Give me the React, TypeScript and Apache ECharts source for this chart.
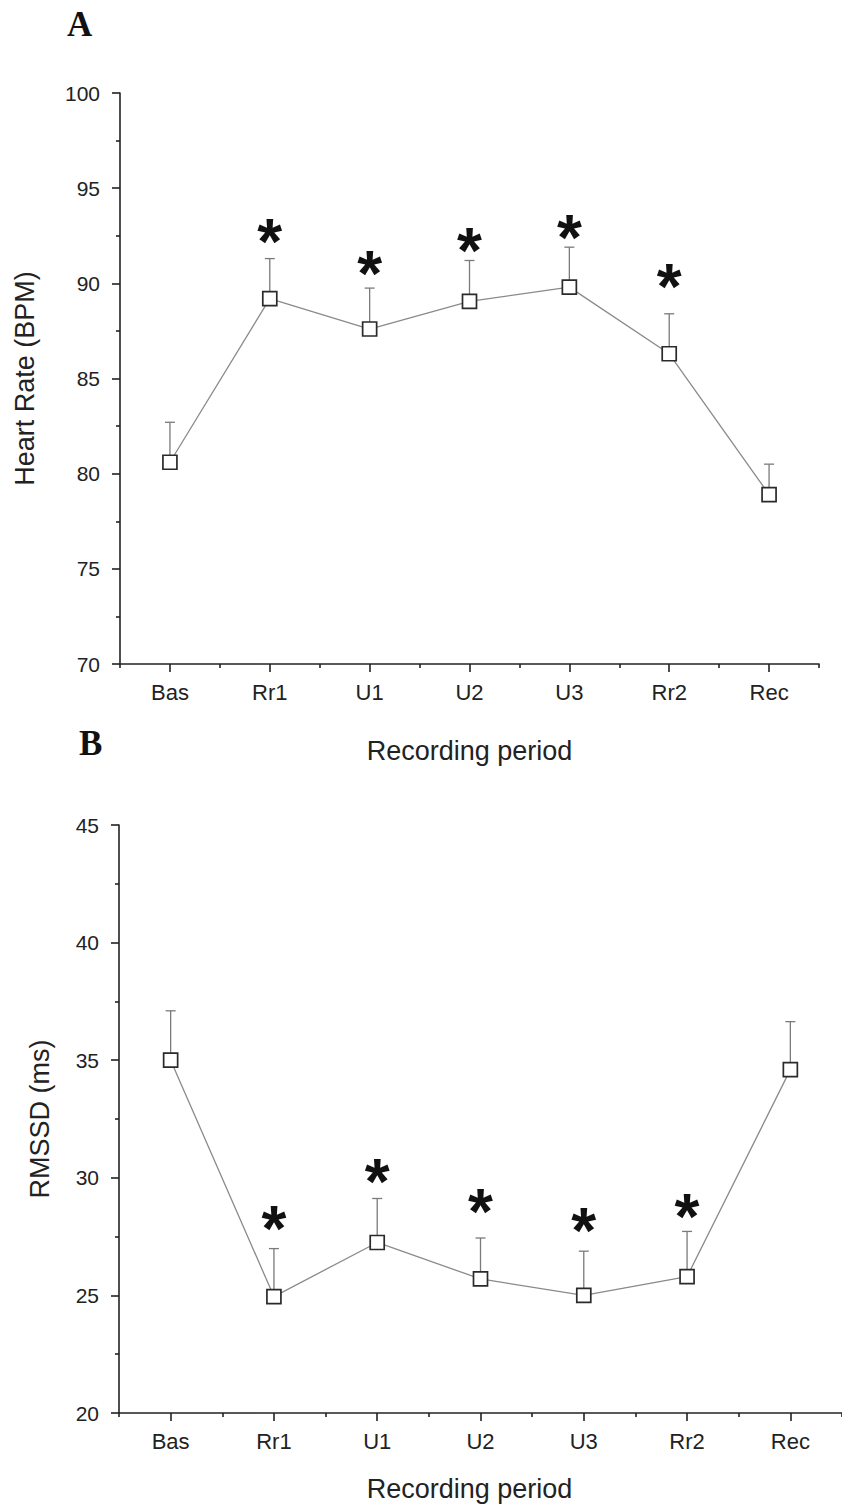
import React, { useEffect, useRef } from 'react';
import * as echarts from 'echarts';

const categories = ['Bas', 'Rr1', 'U1', 'U2', 'U3', 'Rr2', 'Rec'];

const hrMean = [80.6, 89.2, 87.6, 89.05, 89.8, 86.3, 78.9];
const hrSE = [2.1, 2.1, 2.15, 2.15, 2.1, 2.1, 1.6];
const hrStar = [null, 92.4, 90.7, 91.9, 92.6, 90.0, null];
const hrTicks = { min: 70, max: 100, interval: 5 };

const rmMean = [35.0, 24.95, 27.25, 25.7, 25.0, 25.8, 34.6];
const rmSE = [2.1, 2.04, 1.87, 1.74, 1.88, 1.92, 2.04];
const rmStar = [null, 28.0, 30.0, 28.7, 27.9, 28.5, null];
const rmTicks = { min: 20, max: 45, interval: 5 };

const FONT = 'Liberation Sans, Arial, sans-serif';
const AX = '#222';

function errorBars(gi: number, means: number[], ses: number[]) {
  return {
    type: 'custom',
    xAxisIndex: gi,
    yAxisIndex: gi,
    z: 1,
    data: means.map((m, i) => [i, m, m + ses[i]]),
    encode: { x: 0, y: [1, 2] },
    renderItem: (params: any, api: any) => {
      const i = api.value(0);
      const b = api.coord([i, api.value(1)]);
      const t = api.coord([i, api.value(2)]);
      const hw = 5;
      const st = { stroke: '#7a7a7a', lineWidth: 1.3 };
      return {
        type: 'group',
        children: [
          { type: 'line', shape: { x1: b[0], y1: b[1], x2: t[0], y2: t[1] }, style: st },
          { type: 'line', shape: { x1: t[0] - hw, y1: t[1], x2: t[0] + hw, y2: t[1] }, style: st },
        ],
      };
    },
  };
}

function stars(gi: number, starY: (number | null)[]) {
  return {
    type: 'custom',
    xAxisIndex: gi,
    yAxisIndex: gi,
    z: 5,
    data: starY.map((v, i) => (v == null ? null : [i, v])).filter((d) => d != null),
    encode: { x: 0, y: 1 },
    renderItem: (params: any, api: any) => {
      const p = api.coord([api.value(0), api.value(1)]);
      return {
        type: 'text',
        x: p[0],
        y: p[1] + 4,
        style: {
          text: '*',
          font: 'bold 64px Liberation Sans, Arial, sans-serif',
          fill: '#111',
          textAlign: 'center',
          textVerticalAlign: 'middle',
        },
      };
    },
  };
}

function lineSeries(gi: number, means: number[]) {
  return {
    type: 'line',
    xAxisIndex: gi,
    yAxisIndex: gi,
    z: 3,
    data: means,
    symbol: 'rect',
    symbolSize: 14,
    itemStyle: { color: '#fff', borderColor: '#2a2a2a', borderWidth: 1.7 },
    lineStyle: { color: '#8a8a8a', width: 1.3 },
  };
}

function catAxis(gi: number, nameGap: number, namePad: number[]) {
  return {
    gridIndex: gi,
    type: 'category',
    data: categories,
    boundaryGap: true,
    axisLine: { show: true, lineStyle: { color: AX, width: 1.6 } },
    axisTick: { show: true, alignWithLabel: true, length: 8, lineStyle: { color: AX, width: 1.6 } },
    axisLabel: { fontSize: 22, color: AX, margin: 17, fontFamily: FONT },
    splitLine: { show: false },
    name: 'Recording period',
    nameLocation: 'middle',
    nameGap,
    nameTextStyle: { fontSize: 27, color: AX, fontFamily: FONT, padding: namePad },
  };
}

function minorXAxis(gi: number) {
  return {
    gridIndex: gi,
    type: 'value',
    min: -0.5,
    max: 6.5,
    interval: 1,
    axisLine: { show: false },
    axisTick: { show: true, length: 4, lineStyle: { color: AX, width: 1.6 } },
    axisLabel: { show: false },
    splitLine: { show: false },
  };
}

function valAxis(gi: number, t: { min: number; max: number; interval: number }, name: string, nameGap: number) {
  return {
    gridIndex: gi,
    type: 'value',
    min: t.min,
    max: t.max,
    interval: t.interval,
    axisLine: { show: true, lineStyle: { color: AX, width: 1.6 } },
    axisTick: { show: true, length: 8, lineStyle: { color: AX, width: 1.6 } },
    minorTick: { show: true, splitNumber: 2, length: 4, lineStyle: { color: AX, width: 1.6 } },
    axisLabel: { fontSize: 21, color: AX, margin: 20, fontFamily: FONT },
    splitLine: { show: false },
    minorSplitLine: { show: false },
    name,
    nameLocation: 'middle',
    nameRotate: 90,
    nameGap,
    nameTextStyle: { fontSize: 27, color: AX, fontFamily: FONT },
  };
}

function hiddenY(gi: number) {
  return { gridIndex: gi, type: 'value', min: 0, max: 1, show: false };
}

export default function App() {
  const ref = useRef<HTMLDivElement>(null);
  useEffect(() => {
    if (!ref.current) return;
    const chart = echarts.init(ref.current, null, { renderer: 'svg' });
    const gA = { left: 120, top: 93, width: 699, height: 571 };
    const gB = { left: 119, top: 825, width: 726, height: 588 };
    chart.setOption({
      animation: false,
      backgroundColor: '#fff',
      grid: [gA, gA, gB, gB],
      xAxis: [catAxis(0, 73, [0, 0, 0, 0]), minorXAxis(1), catAxis(2, 62, [0, 22, 0, 0]), minorXAxis(3)],
      yAxis: [
        valAxis(0, hrTicks, 'Heart Rate (BPM)', 82),
        hiddenY(1),
        valAxis(2, rmTicks, 'RMSSD (ms)', 66),
        hiddenY(3),
      ],
      graphic: [
        { type: 'text', left: 67, top: 7, style: { text: 'A', font: 'bold 35px Liberation Serif, Times New Roman, serif', fill: '#111' } },
        { type: 'text', left: 79, top: 726, style: { text: 'B', font: 'bold 35px Liberation Serif, Times New Roman, serif', fill: '#111' } },
      ],
      series: [
        errorBars(0, hrMean, hrSE),
        lineSeries(0, hrMean),
        stars(0, hrStar),
        errorBars(2, rmMean, rmSE),
        lineSeries(2, rmMean),
        stars(2, rmStar),
      ],
    });
    return () => chart.dispose();
  }, []);
  return (
    <div
      ref={ref}
      style={{ position: 'absolute', left: 0, top: 0, width: 842, height: 1510, background: '#fff' }}
    />
  );
}
